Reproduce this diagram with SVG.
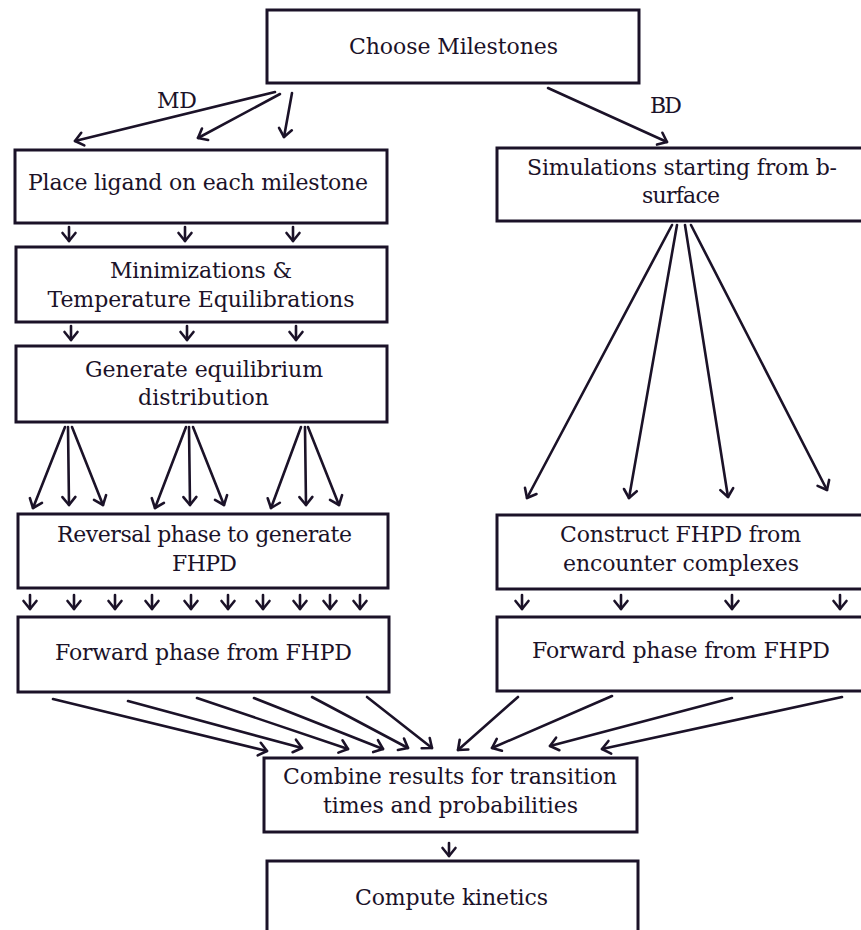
<svg xmlns="http://www.w3.org/2000/svg" width="861" height="930" viewBox="0 0 861 930">
<defs>
<marker id="ah" markerUnits="userSpaceOnUse" markerWidth="20" markerHeight="20" viewBox="-12 -10 16 20" refX="0" refY="0" orient="auto" overflow="visible">
<path d="M-8,-6.5 L0,0 L-8,6.5" fill="none" stroke="#1b1228" stroke-width="2.6" stroke-linecap="round" stroke-linejoin="round"/>
</marker>
<style>
.box{fill:#ffffff;stroke:#1b1228;stroke-width:3}
.t{font-family:"DejaVu Serif","Liberation Serif",serif;font-size:22px;fill:#1b1228;text-anchor:middle}
.c line{stroke:#1b1228;stroke-width:2.6;stroke-linecap:round;marker-end:url(#ah)}
</style>
</defs>
<rect width="861" height="930" fill="#ffffff"/>
<g id="choose"><rect class="box" x="267" y="10" width="372" height="73"/><text class="t" x="453.5" y="54" textLength="209">Choose Milestones</text></g>
<g id="place"><rect class="box" x="15" y="150" width="372" height="73"/><text class="t" x="198" y="190" textLength="340">Place ligand on each milestone</text></g>
<g id="sim"><rect class="box" x="497" y="148" width="368" height="73"/><text class="t" x="682" y="175" textLength="310">Simulations starting from b-</text><text class="t" x="681" y="203" textLength="78">surface</text></g>
<g id="mini"><rect class="box" x="16" y="247" width="371" height="75"/><text class="t" x="201" y="278" textLength="182">Minimizations &amp;</text><text class="t" x="201" y="307" textLength="307">Temperature Equilibrations</text></g>
<g id="gen"><rect class="box" x="16" y="346" width="371" height="76"/><text class="t" x="204" y="377" textLength="238">Generate equilibrium</text><text class="t" x="203.5" y="405" textLength="131">distribution</text></g>
<g id="rev"><rect class="box" x="18" y="514" width="370" height="74"/><text class="t" x="204.5" y="542" textLength="295">Reversal phase to generate</text><text class="t" x="204.5" y="571" textLength="65">FHPD</text></g>
<g id="cons"><rect class="box" x="497" y="515" width="368" height="74"/><text class="t" x="680.5" y="542" textLength="241">Construct FHPD from</text><text class="t" x="681" y="571" textLength="236">encounter complexes</text></g>
<g id="fwdL"><rect class="box" x="18" y="617" width="371" height="75"/><text class="t" x="203.5" y="660" textLength="297">Forward phase from FHPD</text></g>
<g id="fwdR"><rect class="box" x="497" y="617" width="368" height="74"/><text class="t" x="681" y="658" textLength="298">Forward phase from FHPD</text></g>
<g id="combine"><rect class="box" x="264" y="758" width="373" height="74"/><text class="t" x="450" y="784" textLength="334">Combine results for transition</text><text class="t" x="450.5" y="813" textLength="255">times and probabilities</text></g>
<g id="compute"><rect class="box" x="267" y="861" width="371" height="80"/><text class="t" x="451.5" y="905" textLength="193">Compute kinetics</text></g>
<g id="labels"><text class="t" x="177" y="108" textLength="40">MD</text><text class="t" x="666" y="113" textLength="32">BD</text></g>
<g id="connectors" class="c">
<line x1="275" y1="92" x2="75" y2="141"/>
<line x1="280" y1="94" x2="198" y2="138"/>
<line x1="292" y1="93" x2="284" y2="137"/>
<line x1="548" y1="88" x2="667" y2="142"/>
<line x1="69" y1="227" x2="69" y2="241"/>
<line x1="185" y1="227" x2="185" y2="241"/>
<line x1="293" y1="227" x2="293" y2="241"/>
<line x1="71" y1="326" x2="71" y2="340"/>
<line x1="187" y1="326" x2="187" y2="340"/>
<line x1="296" y1="326" x2="296" y2="340"/>
<line x1="65" y1="427" x2="33" y2="508"/>
<line x1="68" y1="427" x2="69" y2="505"/>
<line x1="72" y1="427" x2="103" y2="505"/>
<line x1="186" y1="427" x2="155" y2="508"/>
<line x1="189" y1="427" x2="190" y2="505"/>
<line x1="193" y1="427" x2="224" y2="505"/>
<line x1="301" y1="427" x2="271" y2="508"/>
<line x1="305" y1="427" x2="306" y2="505"/>
<line x1="308" y1="427" x2="339" y2="505"/>
<line x1="30" y1="595" x2="30" y2="609"/>
<line x1="74" y1="595" x2="74" y2="609"/>
<line x1="115" y1="595" x2="115" y2="609"/>
<line x1="152" y1="595" x2="152" y2="609"/>
<line x1="191" y1="595" x2="191" y2="609"/>
<line x1="228" y1="595" x2="228" y2="609"/>
<line x1="263" y1="595" x2="263" y2="609"/>
<line x1="300" y1="595" x2="300" y2="609"/>
<line x1="330" y1="595" x2="330" y2="609"/>
<line x1="360" y1="595" x2="360" y2="609"/>
<line x1="672" y1="225" x2="527" y2="498"/>
<line x1="677" y1="225" x2="629" y2="498"/>
<line x1="685" y1="225" x2="728" y2="497"/>
<line x1="691" y1="225" x2="827" y2="490"/>
<line x1="522" y1="595" x2="522" y2="609"/>
<line x1="621" y1="595" x2="621" y2="609"/>
<line x1="732" y1="595" x2="732" y2="609"/>
<line x1="840" y1="595" x2="840" y2="609"/>
<line x1="53" y1="699" x2="267" y2="751"/>
<line x1="128" y1="701" x2="302" y2="748"/>
<line x1="197" y1="698" x2="348" y2="749"/>
<line x1="254" y1="698" x2="383" y2="749"/>
<line x1="312" y1="697" x2="408" y2="748"/>
<line x1="367" y1="697" x2="432" y2="748"/>
<line x1="518" y1="697" x2="458" y2="750"/>
<line x1="612" y1="696" x2="492" y2="748"/>
<line x1="732" y1="698" x2="550" y2="746"/>
<line x1="842" y1="697" x2="602" y2="749"/>
<line x1="449" y1="843" x2="449" y2="856"/>
</g>
</svg>
